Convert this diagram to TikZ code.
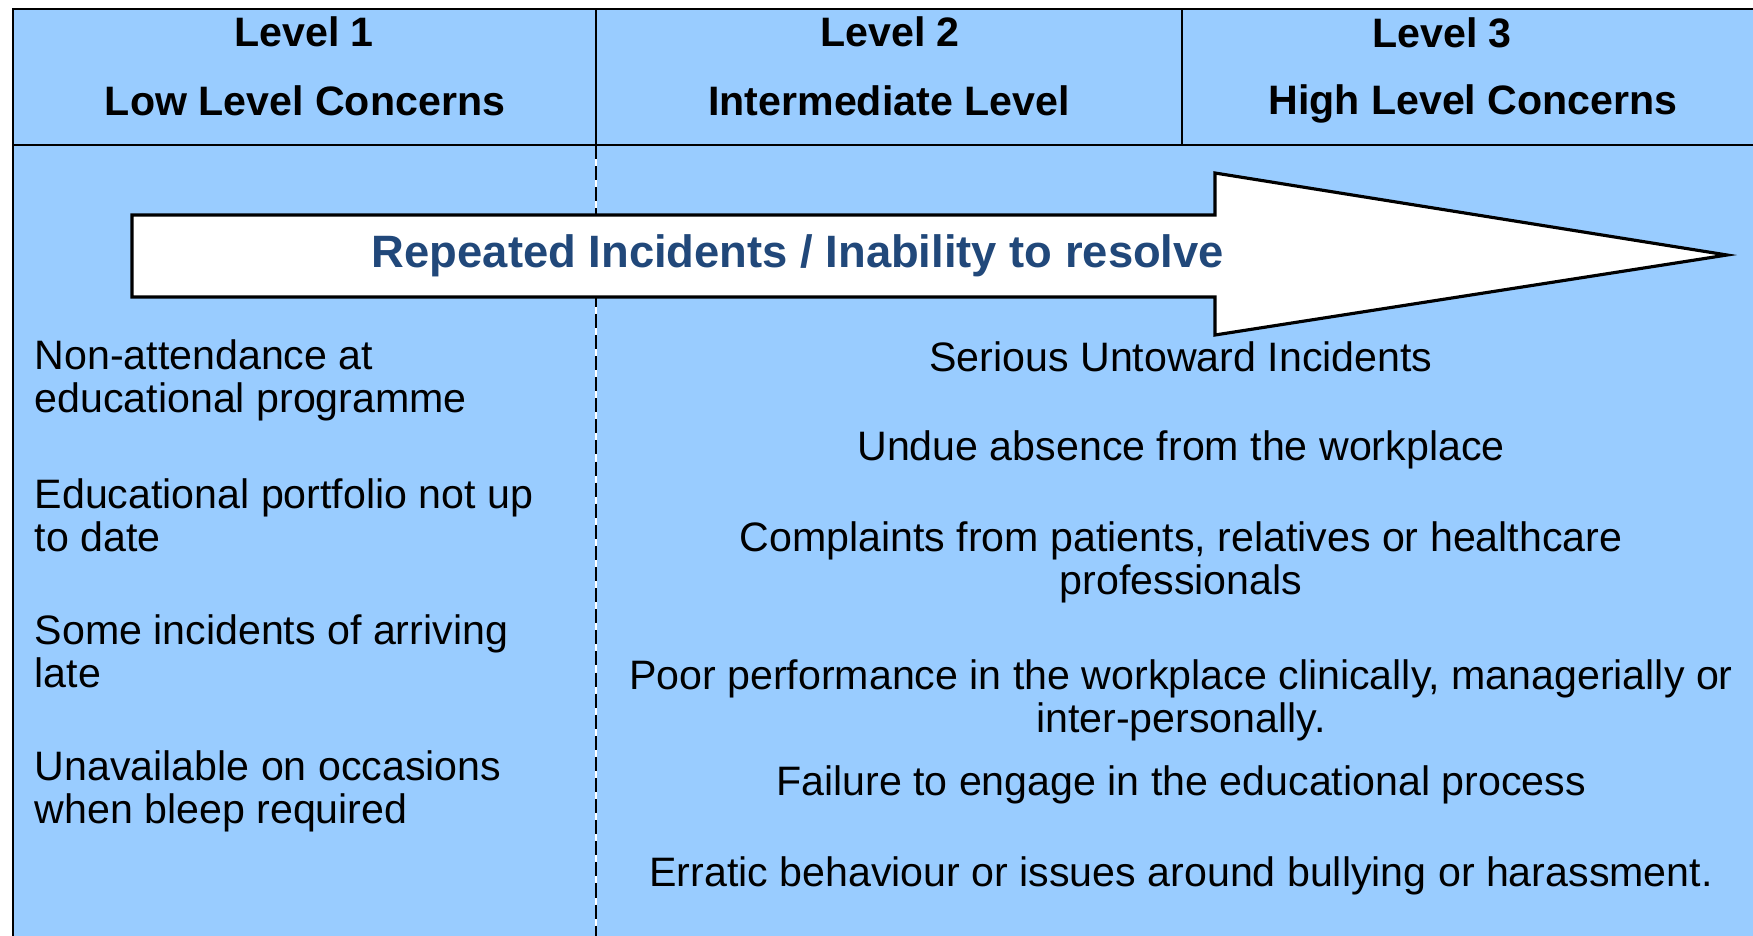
\documentclass[tikz,border=0pt]{standalone}
\usepackage{fontspec}
\setmainfont{Liberation Sans}
\usepackage{tikz}
\usetikzlibrary{positioning}
\definecolor{panelblue}{RGB}{153,204,255}
\definecolor{arrowtext}{RGB}{33,72,122}
\tikzset{
    head/.style={
           inner sep=0,
           font=\fontsize{11.7}{12.2}\bfseries\selectfont,
           },
    item/.style={
           inner sep=0,
           align=left,
           anchor=west,
           font=\fontsize{11.7}{12.3}\selectfont,
           },
    citem/.style={
           inner sep=0,
           align=center,
           font=\fontsize{11.7}{12.3}\selectfont,
           },
    rule/.style={
           draw=black,
           line width=0.6pt,
           },
    bigarrow/.style={
           draw=black,
           fill=white,
           line width=0.9pt,
           line join=miter,
           }
}

\begin{document}
\begin{tikzpicture}[x=0.01cm,y=-0.01cm]
\useasboundingbox (0,0) rectangle (1753,936);
\fill[white] (0,0) rectangle (1753,936);
\fill[panelblue] (13,9) rectangle (1753,936);
% frame and header
\draw[rule] (13,936) -- (13,9) -- (1753,9);
\draw[rule] (13,145) -- (1753,145);
\draw[rule] (596,9) -- (596,145);
\draw[rule] (1182,9) -- (1182,145);
\draw[white, line width=0.6pt] (596,145) -- (596,936);
\draw[rule, dash pattern=on 4pt off 2pt] (596,145) -- (596,936);
% level headings
\node[head] (lvlone) at (304,32) {Level 1};
\node[head] (lowlvl) at (305,101) {Low Level Concerns};
\node[head] (lvltwo) at (890,32) {Level 2};
\node[head] (midlvl) at (889,101) {Intermediate Level};
\node[head] (lvlthree) at (1442,33) {Level 3};
\node[head] (highlvl) at (1473,104) {High Level Concerns};
% escalation arrow
\draw[bigarrow] (132,215) -- (1215,215) -- (1215,173) -- (1727,255)
    -- (1215,335) -- (1215,297) -- (132,297) -- cycle;
\node[head, text=arrowtext, font=\fontsize{12.9}{13}\bfseries\selectfont] (repeat) at (798,256) {Repeated Incidents / Inability to resolve};
% low level items
\node[item] (nonatt) at (34,380) {Non-attendance at\\educational programme};
\node[item] (portf) at (34,515) {Educational portfolio not up\\to date};
\node[item] (late) at (34,651) {Some incidents of arriving\\late};
\node[item] (bleep) at (34,791) {Unavailable on occasions\\when bleep required};
% intermediate and high level items
\node[citem] (serious) at (1181,357) {Serious Untoward Incidents};
\node[citem] (absence) at (1181,450) {Undue absence from the workplace};
\node[citem] (complain) at (1181,562) {Complaints from patients, relatives or healthcare\\professionals};
\node[citem] (perform) at (1181,700) {Poor performance in the workplace clinically, managerially or\\inter-personally.};
\node[citem] (engage) at (1181,785) {Failure to engage in the educational process};
\node[citem] (erratic) at (1181,876) {Erratic behaviour or issues around bullying or harassment.};
\end{tikzpicture}
\end{document}
